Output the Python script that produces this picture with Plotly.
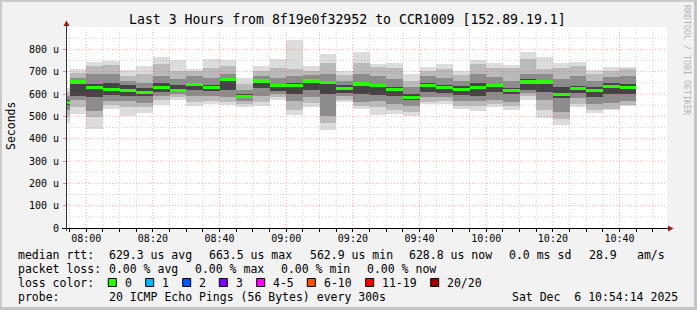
import plotly.graph_objects as go
import pandas as pd

# ---------------- data (microseconds) ----------------
day = "2025-12-06 "
slot_start = ["07:54:14", "07:55:00", "08:00:00", "08:05:00", "08:10:00", "08:15:00", "08:20:00",
              "08:25:00", "08:30:00", "08:35:00", "08:40:00", "08:45:00", "08:50:00", "08:55:00",
              "09:00:00", "09:05:00", "09:10:00", "09:15:00", "09:20:00", "09:25:00", "09:30:00",
              "09:35:00", "09:40:00", "09:45:00", "09:50:00", "09:55:00", "10:00:00", "10:05:00",
              "10:10:00", "10:15:00", "10:20:00", "10:25:00", "10:30:00", "10:35:00", "10:40:00"]
slot_end = ["07:55:00", "08:00:00", "08:05:00", "08:10:00", "08:15:00", "08:20:00", "08:25:00",
            "08:30:00", "08:35:00", "08:40:00", "08:45:00", "08:50:00", "08:55:00", "09:00:00",
            "09:05:00", "09:10:00", "09:15:00", "09:20:00", "09:25:00", "09:30:00", "09:35:00",
            "09:40:00", "09:45:00", "09:50:00", "09:55:00", "10:00:00", "10:05:00", "10:10:00",
            "10:15:00", "10:20:00", "10:25:00", "10:30:00", "10:35:00", "10:40:00", "10:45:00"]

median_rtt = [562.9, 654, 629, 622, 616, 605, 628, 617, 641, 629, 663.5, 590, 658, 638, 640, 658,
              653, 625, 645, 637, 619, 584, 638, 629, 622, 628, 638, 617, 654, 654, 598, 626, 617,
              633, 628.8]
ping_min = [470, 510, 443, 531, 501, 515, 550, 572, 545, 557, 550, 542, 545, 572, 505, 540, 441, 565,
            535, 508, 510, 501, 554, 557, 532, 524, 540, 528, 575, 493, 460, 540, 515, 528, 545]
ping_lo2 = [500, 540, 495, 550, 540, 540, 575, 585, 565, 570, 565, 555, 565, 585, 530, 560, 470, 575,
            545, 540, 530, 520, 565, 568, 545, 545, 555, 545, 590, 530, 490, 555, 530, 535, 550]
ping_lo3 = [530, 575, 525, 570, 570, 560, 590, 600, 590, 590, 585, 570, 590, 600, 570, 585, 500, 590,
            565, 570, 555, 545, 585, 585, 570, 570, 575, 565, 605, 575, 520, 580, 555, 560, 570]
ping_lo4 = [550, 590, 585, 595, 590, 590, 610, 608, 620, 612, 620, 580, 625, 615, 600, 620, 600, 605,
            600, 595, 590, 575, 610, 605, 595, 590, 610, 600, 620, 610, 580, 605, 585, 600, 600]
ping_hi4 = [575, 655, 645, 650, 640, 625, 650, 640, 650, 640, 668, 600, 662, 645, 650, 662, 660, 640,
            650, 645, 630, 600, 650, 640, 635, 650, 645, 625, 665, 660, 630, 635, 630, 650, 645]
ping_hi3 = [590, 670, 690, 690, 660, 650, 680, 665, 680, 670, 690, 620, 680, 670, 680, 685, 690, 660,
            690, 680, 665, 630, 680, 670, 660, 690, 675, 660, 690, 690, 665, 680, 660, 675, 680]
ping_hi2 = [610, 695, 725, 730, 680, 690, 735, 705, 705, 715, 725, 645, 705, 715, 710, 705, 740, 685,
            740, 720, 715, 660, 705, 710, 685, 735, 715, 715, 755, 710, 715, 725, 690, 705, 710]
ping_max = [625, 710, 745, 748, 707, 726, 767, 752, 714, 755, 752, 670, 725, 756, 841, 725, 779, 702,
            789, 734, 740, 689, 722, 735, 702, 752, 740, 732, 789, 767, 740, 744, 707, 722, 719]

y_tick_vals = [0, 100, 200, 300, 400, 500, 600, 700, 800]
y_tick_text = ["0", "100 u", "200 u", "300 u", "400 u", "500 u", "600 u", "700 u", "800 u"]

loss_labels = ["0", "1", "2", "3", "4-5", "6-10", "11-19", "20/20"]
loss_colors = ["#26ff00", "#00b8ff", "#0059ff", "#7e00ff", "#ff00ff", "#ff5500", "#ff0000", "#a10000"]

stats_rtt = ["629.3 us avg", "663.5 us max", "562.9 us min", "628.8 us now", "0.0 ms sd", "28.9", "am/s"]
stats_loss = ["0.00 % avg", "0.00 % max", "0.00 % min", "0.00 % now"]

title = "Last 3 Hours from 8f19e0f32952 to CCR1009 [152.89.19.1]"
x_start = day + "07:54:14"
x_end = day + "10:54:14"

# ---------------- geometry helpers ----------------
W, H = 697, 310
L, R, T, B = 67, 30, 27, 82
PW, PH = W - L - R, H - T - B
FONT = "DejaVu Sans Mono"


def px(xp):
    return (xp - L) / PW


def py(yp):
    return (H - B - yp) / PH


FMT = "%Y-%m-%d %H:%M:%S"
starts = pd.to_datetime([day + s for s in slot_start], format=FMT)
ends = pd.to_datetime([day + s for s in slot_end], format=FMT)
centers = [(s + (e - s) / 2).strftime("%Y-%m-%d %H:%M:%S.%f")[:-3] for s, e in zip(starts, ends)]
widths = [(e - s).total_seconds() * 1000 for s, e in zip(starts, ends)]

fig = go.Figure()

bands = [
    (ping_min, ping_max, "#dcdcdc"),
    (ping_lo2, ping_hi2, "#bababa"),
    (ping_lo3, ping_hi3, "#8c8c8c"),
    (ping_lo4, ping_hi4, "#444444"),
]
for lo, hi, col in bands:
    fig.add_trace(go.Bar(x=centers, base=lo, y=[h - l for l, h in zip(lo, hi)], width=widths,
                         marker=dict(color=col, line=dict(width=0)), hoverinfo="skip",
                         showlegend=False))

fig.add_trace(go.Bar(x=centers, base=[m - 7 for m in median_rtt], y=[14] * len(median_rtt),
                     width=widths, marker=dict(color=loss_colors[0], line=dict(width=0)),
                     hoverinfo="skip", showlegend=False))

shapes = []
# grid (drawn above data, as rrdtool does)
grid_times = pd.date_range(day + "07:55:00", day + "10:50:00", freq="5min")
for t in grid_times:
    major = (t.minute % 20 == 0)
    ts = t.strftime("%Y-%m-%d %H:%M:%S")
    shapes.append(dict(type="line", xref="x", yref="paper", x0=ts, x1=ts, y0=0, y1=1,
                       layer="above",
                       line=dict(color="rgba(255,60,60,0.45)" if major else "rgba(150,150,150,0.45)",
                                 width=1, dash="1px,2px")))
for v in range(50, 900, 50):
    major = (v % 100 == 0)
    shapes.append(dict(type="line", xref="paper", yref="y", x0=0, x1=1, y0=v, y1=v,
                       layer="above",
                       line=dict(color="rgba(255,60,60,0.45)" if major else "rgba(150,150,150,0.45)",
                                 width=1, dash="1px,2px")))

# axis lines with arrows
shapes.append(dict(type="line", xref="paper", yref="paper", x0=px(62), x1=px(670),
                   y0=py(228.5), y1=py(228.5), line=dict(color="#000000", width=1), layer="above"))
shapes.append(dict(type="line", xref="paper", yref="paper", x0=px(66.5), x1=px(66.5),
                   y0=py(231), y1=py(23), line=dict(color="#333333", width=1), layer="above"))
shapes.append(dict(type="path", xref="paper", yref="paper", layer="above",
                   path=f"M {px(63.5)} {py(26)} L {px(69.5)} {py(26)} L {px(66.5)} {py(20.5)} Z",
                   fillcolor="#9b1b1b", line=dict(width=0)))
shapes.append(dict(type="path", xref="paper", yref="paper", layer="above",
                   path=f"M {px(668)} {py(225.5)} L {px(668)} {py(231.5)} L {px(673.5)} {py(228.5)} Z",
                   fillcolor="#9b1b1b", line=dict(width=0)))

# outer frame
shapes.append(dict(type="rect", xref="paper", yref="paper", x0=px(1), x1=px(695.5),
                   y0=py(308.5), y1=py(1), line=dict(color="#cbcbcb", width=2), layer="below"))
shapes.append(dict(type="line", xref="paper", yref="paper", x0=px(695.5), x1=px(695.5),
                   y0=py(310), y1=py(0), line=dict(color="#c4c4c4", width=3), layer="below"))
shapes.append(dict(type="line", xref="paper", yref="paper", x0=px(0), x1=px(697),
                   y0=py(308.5), y1=py(308.5), line=dict(color="#c4c4c4", width=3), layer="below"))

annotations = []


def note(text, x, y, size=11.5, anchor="left", color="#000000", angle=0):
    annotations.append(dict(text=text, x=px(x), y=py(y), xref="paper", yref="paper",
                            xanchor=anchor, yanchor="middle", showarrow=False, textangle=angle,
                            font=dict(family=FONT, size=size, color=color)))


note(title, 347, 19.5, size=13.2, anchor="center")
note("Seconds", 11, 126, size=11.5, anchor="center", angle=-90)
note("RRDTOOL / TOBI OETIKER", 687, 60, size=8.3, anchor="center", color="#b4b4b4", angle=90)

# legend row 1
note("median rtt:", 16, 254.5)
for txt, x in zip(stats_rtt, [107.3, 207.3, 307.5, 406.7, 506.7, 586.7, 635]):
    note(txt, x, 254.5)
# row 2
note("packet loss:", 16, 268.5)
for txt, x in zip(stats_loss, [107.3, 193.3, 279.3, 365.3]):
    note(txt, x, 268.5)
# row 3
note("loss color:", 16, 282.5)
box_x = [108.3, 145.7, 182.7, 219.3, 256.7, 307.3, 365.7, 430.7]
for lab, col, bx in zip(loss_labels, loss_colors, box_x):
    shapes.append(dict(type="rect", xref="paper", yref="paper", x0=px(bx), x1=px(bx + 8),
                       y0=py(286.5), y1=py(278.5), fillcolor=col,
                       line=dict(color="#000000", width=1), layer="above"))
    note(lab, bx + 14.7, 282.5)
# row 4
note("probe:", 16, 296.5)
note("20 ICMP Echo Pings (56 Bytes) every 300s", 107.3, 296.5)
note("Sat Dec  6 10:54:14 2025", 680, 296.5, anchor="right")

fig.update_layout(
    width=W, height=H, margin=dict(l=L, r=R, t=T, b=B, pad=0, autoexpand=False),
    paper_bgcolor="#f2f2f2", plot_bgcolor="#ffffff",
    barmode="overlay", bargap=0, showlegend=False,
    font=dict(family=FONT, size=10, color="#000000"),
    shapes=shapes, annotations=annotations,
    xaxis=dict(type="date", range=[x_start, x_end], showgrid=False, zeroline=False,
               automargin=False, domain=[0, 1],
               dtick=1200000, tickformat="%H:%M", ticks="outside", ticklen=3,
               tickcolor="#000000", showline=False, fixedrange=True,
               tickfont=dict(family=FONT, size=10), ticklabelstandoff=-2,
               minor=dict(dtick=300000, ticks="outside", ticklen=3, tickcolor="#000000",
                          showgrid=False)),
    yaxis=dict(range=[0, 900], autorange=False, showgrid=False, zeroline=False,
               automargin=False, domain=[0, 1], tickmode="array",
               tickvals=y_tick_vals, ticktext=y_tick_text, ticks="outside", ticklen=3,
               tickcolor="#e09090", showline=False, fixedrange=True,
               tickfont=dict(family=FONT, size=10), ticklabelstandoff=2),
)

fig.write_html("out.html")
